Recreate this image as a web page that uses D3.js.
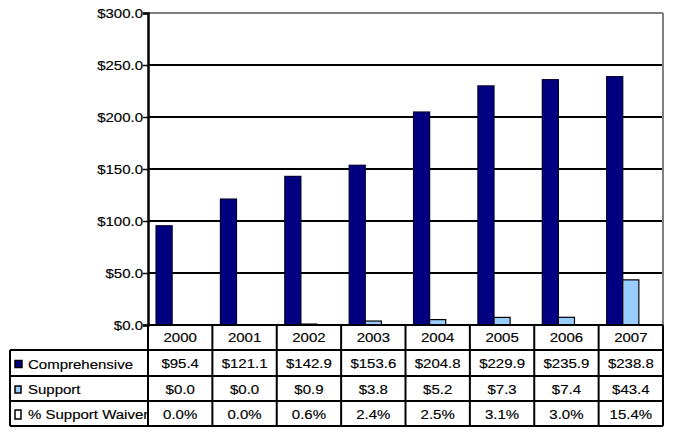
<!DOCTYPE html>
<html>
<head>
<meta charset="utf-8">
<script src="https://cdn.jsdelivr.net/npm/d3@7"></script>
<style>
  body { margin: 0; background: #fff; }
  #chart { width: 674px; height: 435px; }
  text { font-family: "Liberation Sans", Arial, sans-serif; fill: #000; stroke: #000; stroke-width: 0.15; }
</style>
</head>
<body>
<div id="chart"></div>
<script>
const years = ["2000", "2001", "2002", "2003", "2004", "2005", "2006", "2007"];
const seriesNames = ["Comprehensive", "Support", "% Support Waiver"];
const comprehensive = [95.4, 121.1, 142.9, 153.6, 204.8, 229.9, 235.9, 238.8];
const support = [0.0, 0.0, 0.9, 3.8, 5.2, 7.3, 7.4, 43.4];
const waiver = [0.000, 0.000, 0.006, 0.024, 0.025, 0.031, 0.030, 0.154];
const yTicks = [0, 50, 100, 150, 200, 250, 300];

const width = 674, height = 435;
const margin = {top: 13, left: 148, right: 11, bottom: 110};
const tableLeft = 10;
const rowH = [25, 26, 25, 25];

const seriesValues = [comprehensive, support, waiver];
const seriesFill = ["#000080", "#99ccff", "#ffffff"];
const seriesStroke = ["#000033", "#000000", "#000000"];
const cellText = [
    comprehensive.map(d => "$" + d.toFixed(1)),
    support.map(d => "$" + d.toFixed(1)),
    waiver.map(d => (d * 100).toFixed(1) + "%")
];

const svg = d3.select("#chart").append("svg")
    .attr("width", width)
    .attr("height", height);

const xScale = d3.scaleBand()
    .domain(years)
    .range([margin.left, width - margin.right])
    .padding(0);

const xSeries = d3.scaleBand()
    .domain(seriesNames)
    .range([0, xScale.bandwidth()])
    .paddingInner(0)
    .paddingOuter(0.5);

const yScale = d3.scaleLinear()
    .domain([0, 300])
    .range([height - margin.bottom, margin.top]);

// stretched text like the original
const sx = 1.25;
function label(g, x, y, str, anchor) {
    return g.append("text")
        .attr("transform", `translate(${x},${y}) scale(${sx},1)`)
        .attr("text-anchor", anchor || "middle")
        .attr("font-size", 12)
        .text(str);
}

// gridlines
svg.append("g").selectAll("line")
    .data(yTicks.filter(d => d > 0))
    .enter().append("line")
    .attr("x1", margin.left).attr("x2", width - margin.right)
    .attr("y1", d => yScale(d)).attr("y2", d => yScale(d))
    .attr("stroke", d => d === 300 ? "#808080" : "#000")
    .attr("stroke-width", 2);

// right border
svg.append("line")
    .attr("x1", width - margin.right).attr("x2", width - margin.right)
    .attr("y1", yScale(300)).attr("y2", yScale(0))
    .attr("stroke", "#808080").attr("stroke-width", 2);

// bars
const groups = svg.append("g").selectAll("g")
    .data(years)
    .enter().append("g")
    .attr("transform", d => `translate(${xScale(d)},0)`);

groups.selectAll("rect")
    .data((d, i) => seriesNames.map((s, j) => ({s: s, j: j, v: seriesValues[j][i]})))
    .enter().append("rect")
    .filter(d => d.v > 0)
    .attr("x", d => xSeries(d.s))
    .attr("y", d => yScale(d.v))
    .attr("width", xSeries.bandwidth())
    .attr("height", d => yScale(0) - yScale(d.v))
    .attr("fill", d => seriesFill[d.j])
    .attr("stroke", d => seriesStroke[d.j])
    .attr("stroke-width", 1.2);

// y axis
const yAxis = svg.append("g")
    .attr("transform", `translate(${margin.left},0)`)
    .call(d3.axisLeft(yScale).tickValues(yTicks).tickSize(5).tickFormat(() => ""));
yAxis.select(".domain").attr("stroke-width", 2.5);
yAxis.selectAll(".tick line").attr("stroke-width", 1.5);

yTicks.forEach(t => label(svg, 143, yScale(t) + 4.5, "$" + t.toFixed(1), "end"));

// data table
const tableTop = yScale(0);
const rowY = [tableTop];
rowH.forEach((h, i) => rowY.push(rowY[i] + h));
const right = width - margin.right;

const table = svg.append("g");

years.forEach((yr, i) => {
    const cx = xScale(yr) + xScale.bandwidth() / 2;
    label(table, cx, rowY[0] + 17, yr);
    cellText.forEach((row, r) => label(table, cx, rowY[r + 1] + 18, row[i]));
});

const clip = svg.append("clipPath").attr("id", "labelClip")
    .append("rect")
    .attr("x", tableLeft).attr("y", rowY[1])
    .attr("width", margin.left - tableLeft - 1).attr("height", rowY[4] - rowY[1]);

const labels = table.append("g").attr("clip-path", "url(#labelClip)");
seriesNames.forEach((s, r) => {
    const cy = rowY[r + 1] + rowH[r + 1] / 2;
    const kw = r === 0 ? 7 : 6, kh = r === 2 ? 9 : 7;
    labels.append("rect")
        .attr("x", 15).attr("y", cy - kh / 2 + 1)
        .attr("width", kw).attr("height", kh)
        .attr("fill", seriesFill[r])
        .attr("stroke", "#000").attr("stroke-width", 1.5);
    label(labels, 28, cy + 5.5, s, "start");
});

// table lines
const hLines = [
    {y: rowY[0], x1: margin.left},
    {y: rowY[1], x1: tableLeft},
    {y: rowY[2], x1: tableLeft},
    {y: rowY[3], x1: tableLeft},
    {y: rowY[4], x1: tableLeft}
];
table.selectAll(".hl").data(hLines).enter().append("line")
    .attr("x1", d => d.x1).attr("x2", right)
    .attr("y1", d => d.y).attr("y2", d => d.y)
    .attr("stroke", "#000").attr("stroke-width", 2);

const vLines = years.map(y => xScale(y)).concat([right]);
table.selectAll(".vl").data(vLines).enter().append("line")
    .attr("x1", d => d).attr("x2", d => d)
    .attr("y1", rowY[0]).attr("y2", rowY[4])
    .attr("stroke", "#000").attr("stroke-width", 2);

table.append("line")
    .attr("x1", tableLeft).attr("x2", tableLeft)
    .attr("y1", rowY[1]).attr("y2", rowY[4])
    .attr("stroke", "#000").attr("stroke-width", 2);
</script>
</body>
</html>
